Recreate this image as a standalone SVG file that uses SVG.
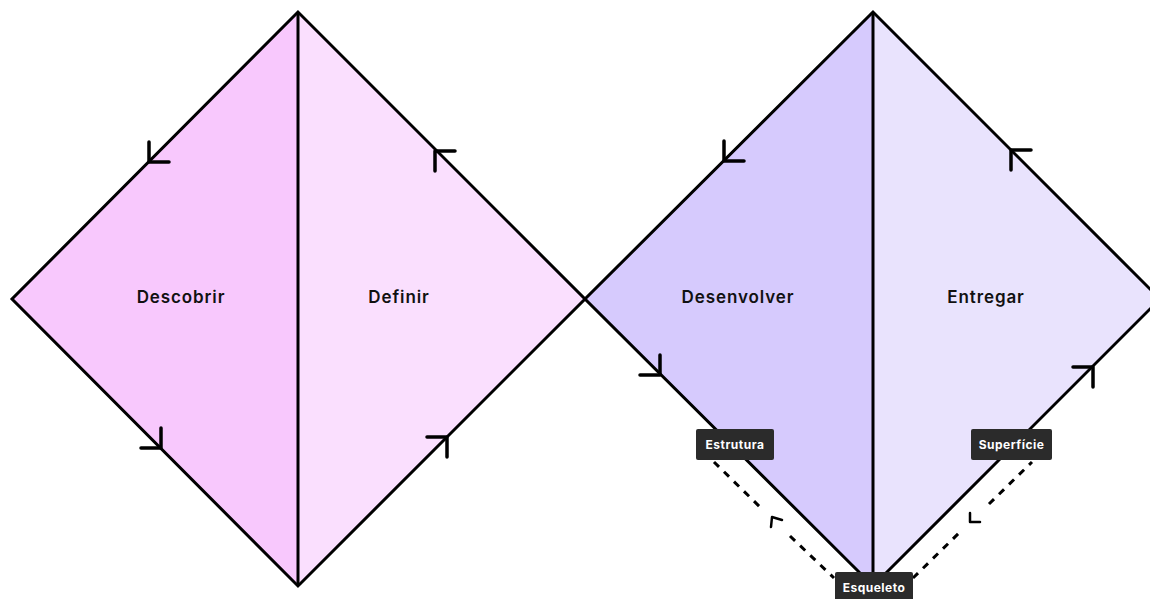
<svg xmlns="http://www.w3.org/2000/svg" width="1150" height="599" viewBox="0 0 1150 599">
<style>
.edge{fill:none;stroke:#000;stroke-width:3;stroke-linejoin:miter}
.mid{fill:none;stroke:#000;stroke-width:3}
.arr{fill:none;stroke:#000;stroke-width:3.5;stroke-linecap:round;stroke-linejoin:round}
.sarr{fill:none;stroke:#000;stroke-width:2.5;stroke-linecap:round;stroke-linejoin:round}
.dash{fill:none;stroke:#000;stroke-width:3;stroke-dasharray:7 7}
.lbl{font-family:"Inter","Liberation Sans",sans-serif;font-size:17px;font-weight:600;fill:#111;text-anchor:middle;letter-spacing:0.9px}
.tag{fill:#2b2b2b}
.tagt{font-family:"Inter","Liberation Sans",sans-serif;font-size:12px;font-weight:700;fill:#fff;text-anchor:middle;letter-spacing:0.5px}
</style>
<rect width="1150" height="599" fill="#fff"/>
<g id="descobrir">
<polygon points="298,12 12,299 298,586" fill="#F8C8FD"/>
<text class="lbl" x="181" y="303">Descobrir</text>
</g>
<g id="definir">
<polygon points="298,12 585,299 298,586" fill="#FADFFE"/>
<text class="lbl" x="399" y="303">Definir</text>
</g>
<g id="desenvolver">
<polygon points="873,12 585,299 873,586" fill="#D6CAFD"/>
<text class="lbl" x="738" y="303">Desenvolver</text>
</g>
<g id="entregar">
<polygon points="873,12 1160,299 873,586" fill="#E9E3FD"/>
<text class="lbl" x="986" y="303">Entregar</text>
</g>
<g id="connectors">
<polygon class="edge" points="298,12 12,299 298,586 585,299"/>
<polygon class="edge" points="873,12 585,299 873,586 1160,299"/>
<line class="mid" x1="298" y1="12" x2="298" y2="586"/>
<line class="mid" x1="873" y1="12" x2="873" y2="586"/>
<path class="arr" d="M149,142 V162 H169"/>
<path class="arr" d="M435,171 V151 H455"/>
<path class="arr" d="M161,428 V448 H141"/>
<path class="arr" d="M427,437 H447 V457"/>
<path class="arr" d="M724,141 V161 H744"/>
<path class="arr" d="M1011,170 V150 H1031"/>
<path class="arr" d="M660,355 V375 H640"/>
<path class="arr" d="M1073,367 H1093 V387"/>
<line class="dash" x1="714" y1="462" x2="760" y2="507"/>
<line class="dash" x1="790" y1="536" x2="834" y2="578"/>
<line class="dash" x1="913" y1="578" x2="960" y2="532"/>
<line class="dash" x1="989" y1="504" x2="1032" y2="462"/>
<path class="sarr" d="M771,527 L772,517 L782,520"/>
<path class="sarr" d="M970,513 V522 H980"/>
</g>
<g id="estrutura">
<rect class="tag" x="696" y="429" width="78" height="31" rx="2"/>
<text class="tagt" x="735" y="449">Estrutura</text>
</g>
<g id="superficie">
<rect class="tag" x="971" y="429" width="81" height="31" rx="2"/>
<text class="tagt" x="1011.5" y="449">Superfície</text>
</g>
<g id="esqueleto">
<rect class="tag" x="835" y="572" width="78" height="32" rx="2"/>
<text class="tagt" x="874" y="592">Esqueleto</text>
</g>
</svg>
